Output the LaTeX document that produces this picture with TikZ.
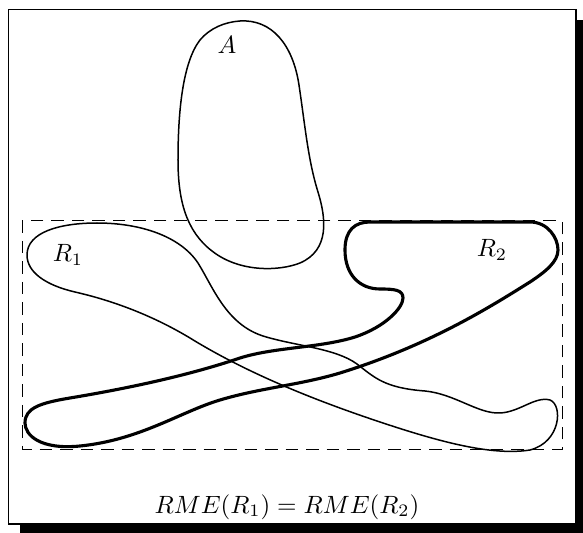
\documentclass[tikz,border=0pt]{standalone}
\begin{document}
\begin{tikzpicture}[x=0.4pt,y=-0.4pt,
  thinline/.style={line width=0.6pt, line join=round},
  thickline/.style={line width=1.25pt, line join=round},
  dashbox/.style={line width=0.6pt, dash pattern=on 5pt off 3.2pt},
  lbl/.style={inner sep=0pt}]
\useasboundingbox (0,0) rectangle (583,533);
% shadow and frame
\fill[black] (20,20) rectangle (583,533);
\filldraw[fill=white, draw=black, line width=0.7pt] (8.5,9.5) rectangle (576,524);
% dashed rectangle
\draw[dashbox] (22.5,220.5) rectangle (562.5,449.5);
% region A
\draw[thinline] (240,21) .. controls (272,19) and (293,45) .. (299,85)
  .. controls (305,125) and (308,160) .. (318,192)
  .. controls (326,218) and (330,250) .. (300,263)
  .. controls (280,271) and (240,273) .. (212,251)
  .. controls (186,231) and (178,200) .. (178,160)
  .. controls (178,110) and (183,62) .. (200,40)
  .. controls (210,28) and (225,22) .. (240,21) -- cycle;
% region R1
\draw[thinline] (97,223) .. controls (140,223) and (180,236) .. (198,263)
  .. controls (213,287) and (226,324) .. (263,336)
  .. controls (295,346) and (335,348) .. (357,364)
  .. controls (375,378) and (385,388) .. (425,391)
  .. controls (455,394) and (478,414) .. (500,413)
  .. controls (520,412) and (535,396) .. (550,400)
  .. controls (563,405) and (561,442) .. (530,450)
  .. controls (492,456) and (440,442) .. (380,422)
  .. controls (320,402) and (250,375) .. (190,338)
  .. controls (150,314) and (110,300) .. (75,292)
  .. controls (45,285) and (27,272) .. (27,255)
  .. controls (27,232) and (60,223) .. (97,223) -- cycle;
% region R2
\draw[thickline] (370,222) -- (530,222)
  .. controls (548,222) and (558,238) .. (558,250)
  .. controls (558,262) and (545,272) .. (530,282)
  .. controls (490,307) and (430,345) .. (340,373)
  .. controls (300,385) and (260,388) .. (220,400)
  .. controls (180,412) and (140,440) .. (80,446)
  .. controls (40,450) and (25,435) .. (25,423)
  .. controls (25,408) and (40,403) .. (70,398)
  .. controls (130,388) and (190,375) .. (240,358)
  .. controls (275,347) and (320,348) .. (355,337)
  .. controls (385,327) and (403,308) .. (403,298)
  .. controls (403,290) and (395,289) .. (380,289)
  .. controls (360,289) and (345,275) .. (345,250)
  .. controls (345,230) and (355,222) .. (370,222) -- cycle;
% labels
\node[lbl] (labA) at (227,45) {$A$};
\node[lbl] (labR1) at (68,255) {$R_1$};
\node[lbl] (labR2) at (492,250) {$R_2$};
\node[lbl] (caption) at (287,507) {$RME(R_1) = RME(R_2)$};
\end{tikzpicture}
\end{document}
